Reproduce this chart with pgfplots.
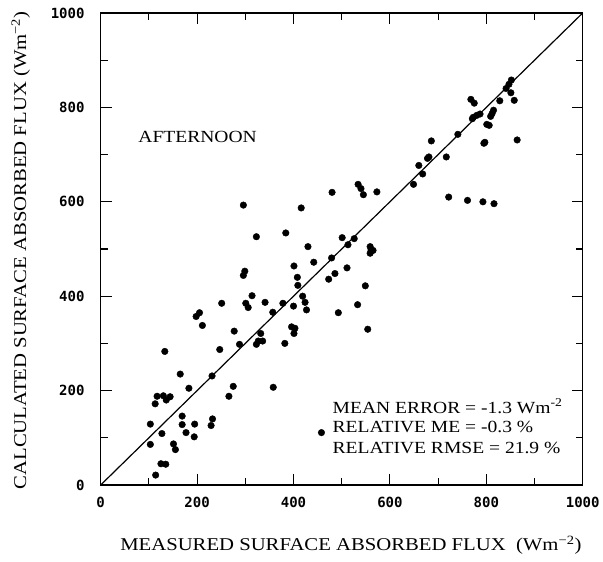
\documentclass[border=0pt]{standalone}
\usepackage{fontspec}
\setmainfont{Liberation Serif}
\newfontfamily\widefont[FakeStretch=1.15]{Liberation Serif}
\newfontfamily\ticfont{DejaVu Sans Mono}
\usepackage{pgfplots}
\pgfplotsset{compat=1.18}

\begin{document}
\begin{tikzpicture}
\begin{axis}[
    scale only axis,
    width=482pt, height=472pt,
    xmin=0, xmax=1000, ymin=0, ymax=1000,
    xtick={0,200,...,1000}, ytick={0,200,...,1000},
    minor xtick={100,300,...,900}, minor ytick={100,300,...,900},
    tick align=inside,
    major tick length=11pt, minor tick length=7pt,
    every tick/.style={black, line width=1.1pt},
    axis line style={line width=1.4pt},
    /pgf/number format/assume math mode=true,
    /pgf/number format/1000 sep={},
    every tick label/.append style={font=\ticfont\bfseries\fontsize{14}{14}\selectfont, inner sep=0pt},
    xticklabel style={yshift=-12pt},
    yticklabel style={xshift=-16pt},
    label style={font=\widefont\fontsize{18}{20}\selectfont},
    xlabel={MEASURED SURFACE ABSORBED FLUX\ \ (Wm\textsuperscript{−2})},
    ylabel={CALCULATED SURFACE ABSORBED FLUX (Wm\textsuperscript{−2})},
    xlabel style={at={(rel axis cs:0.519,0)}, anchor=center, yshift=-60pt},
    ylabel style={at={(rel axis cs:0,0.497)}, anchor=center, yshift=80pt},
    clip=false
]
% 1:1 line
\addplot[black, line width=1.2pt] coordinates {(0,0) (1000,1000)};
% observations
\addplot[only marks, mark=*, mark size=3.3pt, black] coordinates {
(314,401) (251,385) (301,385) (306,376) (341,387) (378,385) (357,366) (400,379)
(198,357) (205,365) (211,338) (277,326) (288,298) (332,321) (323,298) (327,305)
(336,305) (396,335) (401,321) (382,300) (247,287) (133,283) (165,235) (231,231)
(183,205) (275,209) (266,188) (358,207) (117,188) (130,189) (144,187) (136,180)
(113,172) (169,146) (169,128) (103,129) (195,129) (232,140) (229,126) (127,109)
(177,111) (194,102) (103,86) (151,87) (155,75) (125,45) (135,44) (114,21)
(660,677) (668,659) (649,637) (534,637) (540,628) (545,615) (573,621) (480,620)
(296,593) (416,587) (384,534) (323,526) (501,524) (526,522) (513,509) (430,505)
(559,505) (561,498) (565,497) (559,491) (479,481) (442,472) (401,464) (299,453)
(296,444) (511,460) (408,440) (486,448) (473,436) (409,423) (549,422) (419,400)
(424,387) (427,371) (533,382) (493,365) (403,332) (554,330)
(852,858) (847,849) (841,840) (851,831) (768,817) (775,809) (828,814) (858,815)
(815,794) (812,787) (809,781) (787,786) (780,783) (773,779) (771,776) (801,764)
(806,762) (741,743) (686,729) (795,724) (797,726) (864,731) (681,695) (678,692)
(717,695) (722,610) (761,603) (793,600) (816,596)
(458,111)
};
\node[anchor=west, font=\widefont\fontsize{17}{20}\selectfont] at (axis cs:71,737) {AFTERNOON};
\node[anchor=west, font=\widefont\fontsize{17}{20}\selectfont] at (axis cs:474,167) {MEAN ERROR = -1.3 Wm\textsuperscript{-2}};
\node[anchor=west, font=\widefont\fontsize{17}{20}\selectfont] at (axis cs:474,122) {RELATIVE ME = -0.3 \%};
\node[anchor=west, font=\widefont\fontsize{17}{20}\selectfont] at (axis cs:474,78) {RELATIVE RMSE = 21.9 \%};
\path (rel axis cs:0,0) ++(-100.7pt,-77pt) rectangle ++(603pt,562pt);
\end{axis}
\end{tikzpicture}
\end{document}
